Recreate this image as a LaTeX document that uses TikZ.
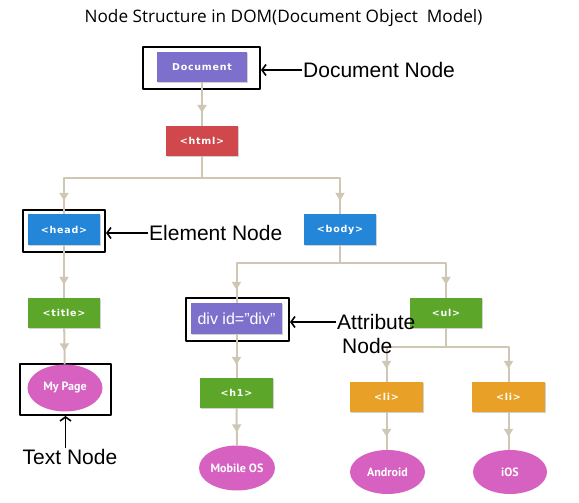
\documentclass[tikz,border=0pt]{standalone}
\usepackage{fontspec}
\setmainfont{Liberation Sans}
\newfontfamily\tagfont[LetterSpace=8]{DejaVu Sans}
\newfontfamily\ovalfont{PT Sans}
\newfontfamily\headfont{Open Sans}
\usetikzlibrary{arrows.meta,shapes.geometric,shadows,decorations.markings}
\definecolor{docpurple}{HTML}{7D70CC}
\definecolor{htmlred}{HTML}{D0484B}
\definecolor{elblue}{HTML}{2386D9}
\definecolor{elgreen}{HTML}{5CA72A}
\definecolor{liorange}{HTML}{E8A126}
\definecolor{txtpink}{HTML}{D761C1}
\definecolor{linktan}{HTML}{CFC7B4}
\begin{document}
\begin{tikzpicture}[>=latex,line join=bevel,
  tag/.style={rectangle,draw=none,minimum width=72bp,minimum height=30bp,inner sep=0pt,text=white,
    drop shadow={shadow xshift=1.2bp,shadow yshift=-1.2bp,fill=black!30,opacity=0.6},
    font=\tagfont\bfseries\fontsize{9.5bp}{12bp}\selectfont},
  oval/.style={ellipse,draw=none,fill=txtpink,minimum width=75bp,minimum height=45bp,inner sep=0pt,text=white,font=\ovalfont\bfseries\fontsize{12bp}{14bp}\selectfont},
  hlbox/.style={rectangle,draw=black,line width=2bp,inner sep=0pt},
  note/.style={inner sep=1bp,font=\fontsize{21bp}{24bp}\selectfont},
  pointer/.style={black,line width=1.6bp,-{Straight Barb[length=4bp,width=11bp]}},
  link/.style={draw=linktan,line width=2bp,postaction={decorate},
    decoration={markings,mark=at position -13bp with {\arrow[linktan]{Triangle[width=9bp,length=8bp]}}}},
]
\useasboundingbox (0bp,0bp) rectangle (579bp,503bp);
%%
\node (node_title) at (283.5bp,485bp) [font=\headfont\fontsize{17.2bp}{20bp}\selectfont] {Node Structure in DOM(Document Object\ \ Model)};
%
\node (box_doc) at (201.5bp,435bp) [hlbox,minimum width=117bp,minimum height=42bp] {};
  \node (box_head) at (64bp,272bp) [hlbox,minimum width=82bp,minimum height=42bp] {};
  \node (box_div) at (237.5bp,183.5bp) [hlbox,minimum width=103bp,minimum height=43bp] {};
  \node (box_my) at (65.5bp,113.5bp) [hlbox,minimum width=91bp,minimum height=51bp] {};
%
\node (node_doc) at (202.0bp,436.0bp) [tag,fill=docpurple,minimum width=90bp] {Document};
  \node (node_html) at (202.0bp,362.0bp) [tag,fill=htmlred] {<html>};
  \node (node_head) at (64.0bp,273.5bp) [tag,fill=elblue,minimum height=31bp] {<head>};
  \node (node_body) at (340.0bp,273.5bp) [tag,fill=elblue,minimum height=31bp] {<body>};
  \node (node_titletag) at (64.0bp,190.0bp) [tag,fill=elgreen] {<title>};
  \node (node_div) at (236.5bp,184.5bp) [tag,fill=docpurple,minimum width=91bp,minimum height=31bp,font=\fontsize{16bp}{18bp}\selectfont] {div id="div"};
  \node (node_ul) at (446.0bp,190.0bp) [tag,fill=elgreen] {<ul>};
  \node (node_h1) at (236.5bp,110.0bp) [tag,fill=elgreen,minimum width=73bp] {<h1>};
  \node (node_li1) at (386.5bp,106.0bp) [tag,fill=liorange,minimum width=73bp] {<li>};
  \node (node_li2) at (508.5bp,106.0bp) [tag,fill=liorange,minimum width=73bp] {<li>};
  \node (node_my) at (65.0bp,115.0bp) [oval,minimum height=47bp] {My Page};
  \node (node_mobile) at (237.0bp,35.0bp) [oval,minimum width=76bp] {Mobile OS};
  \node (node_android) at (387.5bp,31.0bp) [oval,minimum height=44bp] {Android};
  \node (node_ios) at (510.0bp,31.0bp) [oval,minimum width=74bp,minimum height=44bp] {iOS};
%
\draw [link] (node_doc) -- (node_html);
  \draw [link] (node_html.south) -- ++(0bp,-22bp) -| (node_head.north);
  \draw [link] (node_html.south) -- ++(0bp,-22bp) -| (node_body.north);
  \draw [link] (node_head) -- (node_titletag);
  \draw [link] (node_titletag) -- (node_my);
  \draw [link] (node_body.south) -- ++(0bp,-18bp) -| (node_div.north);
  \draw [link] (node_body.south) -- ++(0bp,-18bp) -| (node_ul.north);
  \draw [link] (node_div) -- (node_h1);
  \draw [link] (node_h1) -- (node_mobile);
  \draw [link] (node_ul.south) -- ++(0bp,-19bp) -| (node_li1.north);
  \draw [link] (node_ul.south) -- ++(0bp,-19bp) -| (node_li2.north);
  \draw [link] (node_li1.south) -- (node_li1.south |- node_android.north);
  \draw [link] (node_li2.south) -- (node_li2.south |- node_ios.north);
%
\node (lbl_doc) at (302bp,433bp) [note,anchor=west] {Document Node};
  \node (lbl_elem) at (148bp,270bp) [note,anchor=west] {Element Node};
  \node (lbl_attr) at (336bp,181bp) [note,anchor=west] {Attribute};
  \node (lbl_attrnode) at (341bp,157bp) [note,anchor=west] {Node};
  \node (lbl_text) at (70bp,46bp) [note] {Text Node};
  \draw [pointer] (lbl_doc.west) -- (lbl_doc.west -| box_doc.east);
  \draw [pointer] (lbl_elem.west) -- (lbl_elem.west -| box_head.east);
  \draw [pointer] (lbl_attr.west) -- (lbl_attr.west -| box_div.east);
  \draw [pointer] (box_my.south |- lbl_text.north) -- (box_my.south);
%
\end{tikzpicture}
\end{document}
